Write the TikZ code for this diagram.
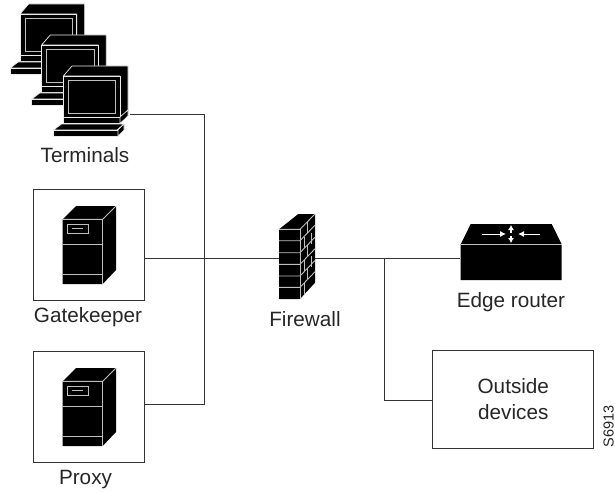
\documentclass[tikz,border=0pt]{standalone}
\usepackage{fontspec}
\usetikzlibrary{arrows.meta}
\setmainfont{Liberation Sans}
\definecolor{ln}{gray}{0.2}
\tikzset{
  x=1pt,y=-1pt,
  conn/.style={draw=ln,line width=0.8pt},
  lbl/.style={font=\fontsize{20.7}{24}\selectfont,text=black!85,inner sep=0pt,align=center},
  bx/.style={draw=ln,line width=0.8pt,fill=white,inner sep=0pt},
  wl/.style={draw=black!25,line width=0.9pt},
  wt/.style={draw=black!8,line width=0.7pt,fill=black,line join=round},
  terminal/.pic={
    \path[wt] (63.3,76)--(72,66)--(128,66)--(128,112)--(120,122)--(120,76)--cycle;
    \path[wt] (63.3,76) rectangle (120,117);
    \draw[wl] (68.3,80) rectangle (115.7,113.3);
    \path[wt] (63.3,117) rectangle (120,123.5);
    \path[wt] (120,117)--(128,110)--(128,116)--(120,123.5)--cycle;
    \path[wt] (53.5,130)--(61.5,124)--(124,124)--(117,130)--cycle;
    \path[wt] (53.5,130) rectangle (118,136);
    \path[wt] (118,130)--(124,124)--(124,130)--(118,136)--cycle;
  },
  server/.pic={
    \fill[black] (62.7,219.3)--(76,206)--(116,206)--(116,270)--(102.7,284)--(62.7,284)--cycle;
    \draw[wl] (62.7,219.3)--(102.7,219.3)--(116,206);
    \draw[wl] (102.7,219.3)--(102.7,284);
    \draw[wl] (62.7,244)--(102.7,244);
    \draw[wl] (62.7,274.3)--(102.7,274.3);
    \draw[wl] (67,224) rectangle (88.3,233.3);
    \draw[wl] (72.3,228.7)--(83.3,228.7);
  }
}
\begin{document}
\begin{tikzpicture}
\useasboundingbox (0,0) rectangle (615,492);
\fill[white] (0,0) rectangle (615,492);
\coordinate (tout) at (130,114);
\coordinate (jt) at (204,114);
\coordinate (jm) at (204,258);
\coordinate (jb) at (204,404.3);
\coordinate (jr) at (384,258);
\coordinate (jo) at (384,400);
\node[bx,minimum width=111pt,minimum height=111pt] (gk) at (88.8,244.5) {};
\node[bx,minimum width=111pt,minimum height=111pt] (px) at (88.8,406.7) {};
\node[bx,minimum width=161.7pt,minimum height=98.3pt] (od) at (512.8,399.2) {};
\node[inner sep=0pt,minimum width=36pt,minimum height=70pt] (fw) at (297,258) {};
\node[inner sep=0pt,minimum width=101pt,minimum height=36pt] (er) at (511,262) {};
\draw[conn] (tout)--(jt)--(jb)--(jb-|px.east);
\draw[conn] (gk.east|-jm)--(fw.west|-jm);
\draw[conn] (fw.east|-jm)--(er.west|-jm);
\draw[conn] (jr)--(jo)--(jo-|od.west);
% terminals
\pic at (-43.3,-62) {terminal};
\pic at (-21.7,-31) {terminal};
\pic at (0,0) {terminal};
% servers
\pic at (0,0) {server};
\pic at (0,162) {server};
% firewall
\fill[black] (279,229.3)--(298.3,214)--(315,214)--(315,282.7)--(300,299)--(279,299)--cycle;
\draw[wl] (279,229.3)--(300,229.3)--(315,214);
\draw[wl] (300,229.3)--(300,299);
\foreach \y in {240.7,252.7,264.3,276,287.3}{
  \draw[wl] (279,\y)--(300,\y)--(315,\y-15.5);
}
\draw[wl] (307.5,221.5)--(307.5,232.5);
\draw[wl] (304,237)--(304,248);
\draw[wl] (311,233)--(311,244);
\draw[wl] (304,260)--(304,271);
\draw[wl] (311,256)--(311,267);
\draw[wl] (307.5,245)--(307.5,256);
\draw[wl] (307.5,268)--(307.5,279);
\draw[wl] (304,283)--(304,294);
% router
\fill[black] (460.7,244.3)--(470.7,224)--(551.7,224)--(561.7,244.3)--(561.7,280)--(460.7,280)--cycle;
\draw[wl] (460.7,244.3)--(561.7,244.3);
\draw[white,line width=1pt,-{Latex[length=6pt,width=6pt]}] (482,234)--(506,234);
\draw[white,line width=1pt,-{Latex[length=6pt,width=6pt]}] (540,234)--(518,234);
\draw[white,line width=1.2pt,-{Latex[length=5pt,width=6pt]}] (511,233)--(511,225);
\draw[white,line width=1.2pt,-{Latex[length=5pt,width=6pt]}] (511,236)--(511,243);
% labels
\node[lbl] (t1) at (85,155) {Terminals};
\node[lbl] (t2) at (88,317) {Gatekeeper};
\node[lbl] (t3) at (85.5,480) {Proxy};
\node[lbl] (t4) at (305,319) {Firewall};
\node[lbl] (t5) at (511,302) {Edge router};
\node[lbl,font=\fontsize{20.7}{25.6}\selectfont] (t6) at (513.3,399) {Outside\\devices};
\node[font=\fontsize{14.5}{17}\selectfont,text=black!85,inner sep=0pt,rotate=90] (t7) at (608.5,426.5) {S6913};
\end{tikzpicture}
\end{document}
